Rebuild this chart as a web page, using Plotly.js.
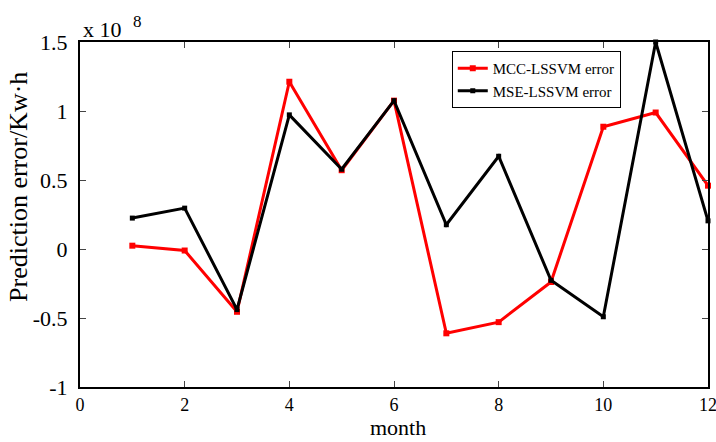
<!DOCTYPE html>
<html>
<head>
<meta charset="utf-8">
<script src="https://cdn.plot.ly/plotly-3.0.1.min.js"></script>
<style>html,body{margin:0;padding:0;background:#fff;}#chart{width:716px;height:442px;}</style>
</head>
<body>
<div id="chart"></div>
<script>
// values in units of 10^8 Kw·h
const months = [1, 2, 3, 4, 5, 6, 7, 8, 9, 10, 11, 12];
const mccError = [0.024, -0.011, -0.455, 1.212, 0.571, 1.075, -0.611, -0.53, -0.239, 0.886, 0.989, 0.459];
const mseError = [0.224, 0.296, -0.439, 0.972, 0.578, 1.075, 0.176, 0.672, -0.227, -0.491, 1.5, 0.204];
const xTickVals = [0, 2, 4, 6, 8, 10, 12];
const xTickText = ["0", "2", "4", "6", "8", "10", "12"];
const yTickVals = [-1, -0.5, 0, 0.5, 1, 1.5];
const yTickText = ["-1", "-0.5", "0", "0.5", "1", "1.5"];
const seriesNames = ["MCC-LSSVM error", "MSE-LSSVM error"];

const FONT = "Liberation Serif";

const traces = [
  {x: months, y: mccError, name: seriesNames[0], type: 'scatter', mode: 'lines+markers', cliponaxis: false,
   line: {color: 'rgb(255,0,0)', width: 3}, marker: {symbol: 'square', size: 6, color: 'rgb(255,0,0)'}},
  {x: months, y: mseError, name: seriesNames[1], type: 'scatter', mode: 'lines+markers', cliponaxis: false,
   line: {color: 'rgb(0,0,0)', width: 3}, marker: {symbol: 'square', size: 5, color: 'rgb(0,0,0)'}}
];

const layout = {
  width: 716, height: 442,
  margin: {l: 80, r: 8, t: 42, b: 55},
  paper_bgcolor: '#fff', plot_bgcolor: '#fff',
  font: {family: FONT, color: '#000'},
  showlegend: true,
  legend: {x: 0.592, y: 0.974, xanchor: 'left', yanchor: 'top',
           bordercolor: '#000', borderwidth: 1, bgcolor: '#fff',
           font: {family: FONT, size: 15, color: '#000'}, tracegroupgap: 0},
  xaxis: {range: [0, 12], tickvals: xTickVals, ticktext: xTickText, ticks: 'inside', ticklen: 6, tickwidth: 1,
          showline: true, linecolor: '#000', linewidth: 2, mirror: 'ticks', showgrid: false, zeroline: false,
          ticklabeloverflow: 'allow', automargin: false,
          tickfont: {family: FONT, size: 18, color: '#000'}},
  yaxis: {range: [-1, 1.5], tickvals: yTickVals, ticktext: yTickText, ticks: 'inside', ticklen: 6, tickwidth: 1,
          showline: true, linecolor: '#000', linewidth: 2, mirror: 'ticks', showgrid: false, zeroline: false,
          ticklabeloverflow: 'allow', automargin: false,
          tickfont: {family: FONT, size: 22, color: '#000'}, ticklabelstandoff: 6},
  annotations: [
    {text: 'Prediction error/Kw·h', textangle: -90, xref: 'paper', yref: 'paper', x: -0.097, y: 0.58,
     xanchor: 'center', yanchor: 'middle', showarrow: false, font: {family: FONT, size: 26, color: '#000'}},
    {text: 'month', xref: 'paper', yref: 'paper', x: 0.506, y: -0.118,
     xanchor: 'center', yanchor: 'middle', showarrow: false, font: {family: FONT, size: 22, color: '#000'}},
    {text: 'x 10', xref: 'paper', yref: 'paper', x: 0.002, y: 0.995,
     xanchor: 'left', yanchor: 'bottom', showarrow: false, font: {family: FONT, size: 22, color: '#000'}},
    {text: '8', xref: 'paper', yref: 'paper', x: 0.082, y: 1.06,
     xanchor: 'left', yanchor: 'middle', showarrow: false, font: {family: FONT, size: 17, color: '#000'}}
  ]
};

Plotly.newPlot('chart', traces, layout, {displayModeBar: false, staticPlot: true});
</script>
</body>
</html>
